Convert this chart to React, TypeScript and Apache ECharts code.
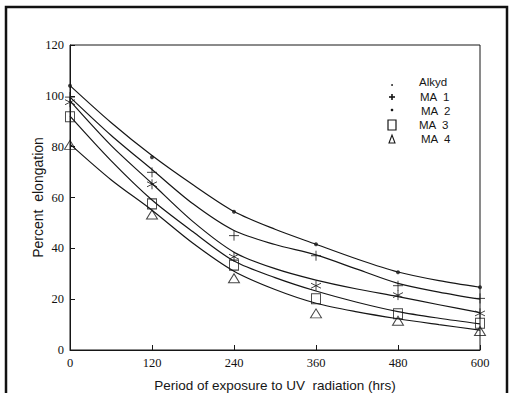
import React, { useEffect, useRef } from "react";
import * as echarts from "echarts";

// Measured hours (x categories of the markers)
const hours = [0, 120, 240, 360, 480, 600];
// Marker values
const alkydPts = [104, 75.8, 54.4, 41.6, 30.6, 24.7];
const ma1Pts = [99.5, 69.9, 45, 37.1, 25.3, 20.3];
const ma2Pts = [97.5, 65.2, 36.7, 25.3, 21.6, 14.4];
const ma3Pts = [91.8, 57.5, 33.4, 20.2, 14.3, 10.5];
const ma4Pts = [80.7, 53.3, 28.2, 14.4, 11.5, 7.5];

// Fitted curves at these hours
const curveHours = [0, 60, 120, 180, 240, 300, 360, 420, 480, 540, 600];
const alkydCurve = [104, 89.5, 76.5, 65, 54.5, 47.5, 41.6, 35.8, 30.7, 27.3, 24.7];
const ma1Curve = [99.5, 84.5, 71, 57.5, 47, 41.5, 37.4, 31.8, 26.2, 22.8, 20];
const ma2Curve = [98, 80.5, 65.5, 50.5, 38.5, 32, 27.5, 24, 21, 17.8, 14.7];
const ma3Curve = [92, 74.5, 59, 46.5, 35, 28.5, 23.2, 18.8, 15.1, 12.5, 10.3];
const ma4Curve = [81, 67, 55, 42, 31, 23.8, 18.4, 15, 12.3, 10, 7.8];

const seriesNames = ["Alkyd", "MA  1", "MA  2", "MA  3", "MA  4"];
const xTicks = [0, 120, 240, 360, 480, 600];
const yTicks = [0, 20, 40, 60, 80, 100, 120];

const INK = "#161616";

const PLUS = "path://M5,0L5,10M0,5L10,5";
const STAR = "path://M5,0L5,10M0.7,2.5L9.3,7.5M0.7,7.5L9.3,2.5";
const SQUARE = "path://M0,0L10,0L10,10L0,10Z";
const TRI = "path://M5,0L10,9L0,9Z";

export default function App() {
  const ref = useRef<HTMLDivElement>(null);
  useEffect(() => {
    if (!ref.current) return;
    const chart = echarts.init(ref.current, null, { renderer: "svg" });
    const pts = [alkydPts, ma1Pts, ma2Pts, ma3Pts, ma4Pts];
    const curves = [alkydCurve, ma1Curve, ma2Curve, ma3Curve, ma4Curve];
    const symbols: any[] = ["circle", PLUS, STAR, SQUARE, TRI];
    const sizes: any[] = [4, 10, 10, [9, 10], [11, 9]];

    const lineSeries = curves.map((c, i) => ({
      name: seriesNames[i] + " fit",
      type: "line",
      data: curveHours.map((h, j) => [h, c[j]]),
      smooth: 0.3,
      showSymbol: false,
      symbol: "none",
      silent: true,
      lineStyle: { color: INK, width: 1.2 },
      z: 2,
    }));
    const scatterSeries = pts.map((p, i) => ({
      name: seriesNames[i],
      type: "scatter",
      data: hours.map((h, j) => [h, p[j]]),
      symbol: symbols[i],
      symbolSize: sizes[i],
      itemStyle:
        i === 0
          ? { color: INK }
          : { color: "rgba(0,0,0,0)", borderColor: INK, borderWidth: 1 },
      z: 3,
    }));

    const legendY = [82, 97, 111, 125, 139];
    const legendX = [419, 420, 421, 419, 421];

    const tickLabel = {
      fontFamily: "'Liberation Serif', 'DejaVu Serif', serif",
      fontSize: 12.5,
      color: "#111",
      margin: 6,
    };

    chart.setOption({
      animation: false,
      backgroundColor: "#ffffff",
      grid: {
        left: 70,
        right: 29,
        top: 45,
        bottom: 43,
        show: true,
        borderColor: INK,
        borderWidth: 1,
        containLabel: false,
        outerBoundsMode: "none",
      },
      xAxis: {
        type: "value",
        min: xTicks[0],
        max: xTicks[xTicks.length - 1],
        interval: 120,
        name: "Period of exposure to UV  radiation (hrs)",
        nameLocation: "middle",
        nameGap: 28.5,
        nameMoveOverlap: false,
        nameTextStyle: {
          fontFamily: "Liberation Sans",
          fontSize: 13.5,
          color: INK,
        },
        axisLine: { show: true, lineStyle: { color: INK, width: 1 } },
        axisTick: { show: true, inside: true, length: 5, lineStyle: { color: INK } },
        axisLabel: tickLabel,
        splitLine: { show: false },
      },
      yAxis: {
        type: "value",
        min: yTicks[0],
        max: yTicks[yTicks.length - 1],
        interval: 20,
        name: "Percent  elongation",
        nameLocation: "middle",
        nameGap: 25,
        nameMoveOverlap: false,
        nameTextStyle: {
          fontFamily: "Liberation Sans",
          fontSize: 14,
          color: INK,
        },
        axisLine: { show: true, lineStyle: { color: INK, width: 1 } },
        axisTick: { show: true, inside: true, length: 5, lineStyle: { color: INK } },
        axisLabel: tickLabel,
        splitLine: { show: false },
      },
      graphic: [
        {
          type: "rect",
          shape: { x: 6, y: 7, width: 501, height: 420 },
          style: { fill: "none", stroke: "#111", lineWidth: 2.5 },
          silent: true,
        },
        // legend markers
        { type: "circle", shape: { cx: 392, cy: 85, r: 0.9 }, style: { fill: INK } },
        { type: "line", shape: { x1: 389, y1: 97, x2: 395, y2: 97 }, style: { stroke: INK, lineWidth: 1.6 } },
        { type: "line", shape: { x1: 392, y1: 94, x2: 392, y2: 100 }, style: { stroke: INK, lineWidth: 1.6 } },
        { type: "circle", shape: { cx: 392, cy: 110, r: 1.3 }, style: { fill: INK } },
        { type: "rect", shape: { x: 388, y: 120, width: 8, height: 10 }, style: { fill: "none", stroke: INK, lineWidth: 1.2 } },
        {
          type: "polygon",
          shape: { points: [[389, 143], [392, 135], [395, 143]] },
          style: { fill: "none", stroke: INK, lineWidth: 1.1 },
        },
        ...seriesNames.map((n, i) => ({
          type: "text",
          x: legendX[i],
          y: legendY[i],
          style: {
            text: n,
            fill: INK,
            font: "11.5px 'Liberation Sans'",
            textVerticalAlign: "middle",
          },
        })),
      ],
      series: [...lineSeries, ...scatterSeries],
    });
    return () => chart.dispose();
  }, []);
  return (
    <div
      ref={ref}
      style={{ position: "fixed", left: 0, top: 0, width: 509, height: 393 }}
    />
  );
}
